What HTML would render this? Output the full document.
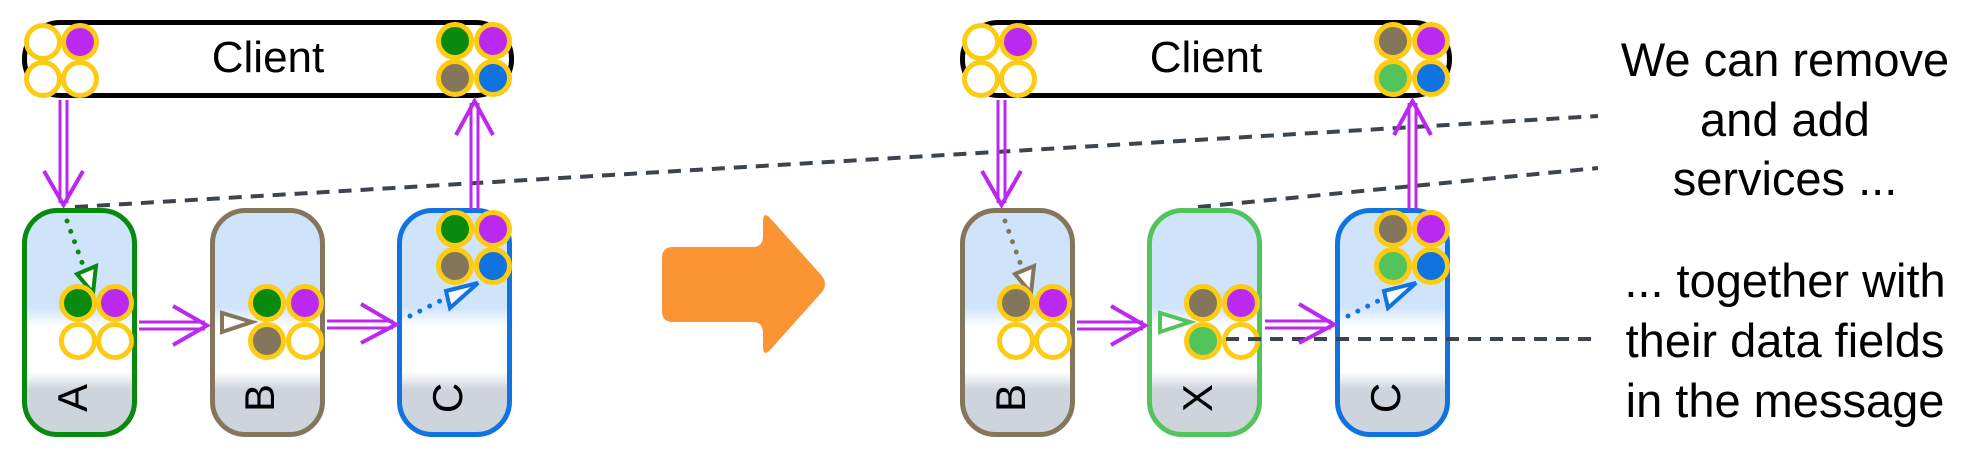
<!DOCTYPE html>
<html><head><meta charset="utf-8"><style>html,body{margin:0;padding:0;background:#fff}svg{display:block}</style></head>
<body>
<svg width="1980" height="459" viewBox="0 0 1980 459" xmlns="http://www.w3.org/2000/svg" font-family="Liberation Sans, sans-serif">
<defs>
<linearGradient id="bg" x1="0" y1="0" x2="0" y2="1">
<stop offset="0" stop-color="#cfe3fb"/><stop offset="0.43" stop-color="#cfe3fb"/>
<stop offset="0.52" stop-color="#ffffff"/><stop offset="0.72" stop-color="#ffffff"/>
<stop offset="0.8" stop-color="#cdd4dc"/><stop offset="1" stop-color="#cdd4dc"/>
</linearGradient>
</defs>

<g stroke="#3c4450" stroke-width="4" stroke-dasharray="13,9" fill="none">
<line x1="75" y1="207" x2="1598" y2="116"/>
<line x1="1198" y1="207" x2="1598" y2="168"/>
<line x1="1226" y1="339" x2="1598" y2="339"/>
</g>

<rect x="24.5" y="22.5" width="487" height="73" rx="36" fill="#fff" stroke="#000" stroke-width="5"/>
<text x="268" y="72" font-size="44" text-anchor="middle">Client</text>

<rect x="24.5" y="210.5" width="110" height="224" rx="33" fill="url(#bg)" stroke="#078a0e" stroke-width="5"/>
<rect x="212.5" y="210.5" width="110" height="224" rx="33" fill="url(#bg)" stroke="#84765a" stroke-width="5"/>
<rect x="399.5" y="210.5" width="110" height="224" rx="33" fill="url(#bg)" stroke="#1173e0" stroke-width="5"/>
<g font-size="42" text-anchor="middle">
<text transform="translate(87,398) rotate(-90)">A</text>
<text transform="translate(274,398) rotate(-90)">B</text>
<text transform="translate(462,398) rotate(-90)">C</text>
</g>

<g stroke="#bb29f0" fill="none">
<line x1="60" y1="100" x2="60" y2="203" stroke-width="3"/><line x1="67" y1="100" x2="67" y2="203" stroke-width="3"/>
<polyline points="44,171 63.5,205 83,171" stroke-width="4"/>
<line x1="471" y1="103" x2="471" y2="209" stroke-width="3"/><line x1="478" y1="103" x2="478" y2="209" stroke-width="3"/>
<polyline points="456,135 474.5,101 493,135" stroke-width="4"/>
<line x1="139" y1="322" x2="205" y2="322" stroke-width="3"/><line x1="139" y1="329" x2="205" y2="329" stroke-width="3"/>
<polyline points="173,306 207,325.5 173,345" stroke-width="4"/>
<line x1="327" y1="321" x2="393" y2="321" stroke-width="3"/><line x1="327" y1="328" x2="393" y2="328" stroke-width="3"/>
<polyline points="361,304 396,324.5 361,343" stroke-width="4"/>
</g>

<line x1="67" y1="221" x2="84" y2="268" stroke="#078a0e" stroke-width="5" stroke-linecap="round" stroke-dasharray="0,11"/>
<polygon points="93,293 77,274 96,266" fill="#fff" stroke="#078a0e" stroke-width="4"/>
<polygon points="252,322 222,313 222,332" fill="#fff" stroke="#84765a" stroke-width="4"/>
<line x1="410" y1="316" x2="446" y2="298" stroke="#1173e0" stroke-width="5" stroke-linecap="round" stroke-dasharray="0,11"/>
<polygon points="478,283 446,291 450,308" fill="#fff" stroke="#1173e0" stroke-width="4"/>

<g stroke="#fccb14" stroke-width="5">
<circle cx="43" cy="42" r="16.5" fill="#fff"/><circle cx="80" cy="42" r="16.5" fill="#bb29f0"/>
<circle cx="43" cy="79" r="16.5" fill="#fff"/><circle cx="80" cy="79" r="16.5" fill="#fff"/>
<circle cx="455" cy="41" r="16.5" fill="#078a0e"/><circle cx="493" cy="41" r="16.5" fill="#bb29f0"/>
<circle cx="455" cy="78" r="16.5" fill="#84765a"/><circle cx="493" cy="78" r="16.5" fill="#1173e0"/>
<circle cx="78" cy="303" r="16.5" fill="#078a0e"/><circle cx="115" cy="303" r="16.5" fill="#bb29f0"/>
<circle cx="78" cy="341" r="16.5" fill="#fff"/><circle cx="115" cy="341" r="16.5" fill="#fff"/>
<circle cx="267" cy="303" r="16.5" fill="#078a0e"/><circle cx="305" cy="303" r="16.5" fill="#bb29f0"/>
<circle cx="267" cy="341" r="16.5" fill="#84765a"/><circle cx="305" cy="341" r="16.5" fill="#fff"/>
<circle cx="455" cy="229" r="16.5" fill="#078a0e"/><circle cx="493" cy="229" r="16.5" fill="#bb29f0"/>
<circle cx="455" cy="266" r="16.5" fill="#84765a"/><circle cx="493" cy="266" r="16.5" fill="#1173e0"/>
</g>

<path d="M662 258 Q662 247 673 247 L752 247 Q763 247 763 236 L763 222 Q763 210 771 219 L822 276 Q828 284 822 292 L771 349 Q763 358 763 346 L763 333 Q763 322 752 322 L673 322 Q662 322 662 311 Z" fill="#fb9533"/>

<rect x="962.5" y="22.5" width="487" height="73" rx="36" fill="#fff" stroke="#000" stroke-width="5"/>
<text x="1206" y="72" font-size="44" text-anchor="middle">Client</text>

<rect x="962.5" y="210.5" width="110" height="224" rx="33" fill="url(#bg)" stroke="#84765a" stroke-width="5"/>
<rect x="1149.5" y="210.5" width="110" height="224" rx="33" fill="url(#bg)" stroke="#53c45c" stroke-width="5"/>
<rect x="1337.5" y="210.5" width="110" height="224" rx="33" fill="url(#bg)" stroke="#1173e0" stroke-width="5"/>
<g font-size="42" text-anchor="middle">
<text transform="translate(1025,398) rotate(-90)">B</text>
<text transform="translate(1212,398) rotate(-90)">X</text>
<text transform="translate(1400,398) rotate(-90)">C</text>
</g>
<line x1="1226" y1="339" x2="1460" y2="339" stroke="#3c4450" stroke-width="4" stroke-dasharray="13,9"/>

<g stroke="#bb29f0" fill="none">
<line x1="998" y1="100" x2="998" y2="203" stroke-width="3"/><line x1="1005" y1="100" x2="1005" y2="203" stroke-width="3"/>
<polyline points="982,171 1001.5,205 1021,171" stroke-width="4"/>
<line x1="1409" y1="103" x2="1409" y2="209" stroke-width="3"/><line x1="1416" y1="103" x2="1416" y2="209" stroke-width="3"/>
<polyline points="1394,135 1412.5,101 1431,135" stroke-width="4"/>
<line x1="1077" y1="322" x2="1143" y2="322" stroke-width="3"/><line x1="1077" y1="329" x2="1143" y2="329" stroke-width="3"/>
<polyline points="1111,306 1145,325.5 1111,345" stroke-width="4"/>
<line x1="1265" y1="321" x2="1331" y2="321" stroke-width="3"/><line x1="1265" y1="328" x2="1331" y2="328" stroke-width="3"/>
<polyline points="1299,304 1334,324.5 1299,343" stroke-width="4"/>
</g>

<line x1="1005" y1="221" x2="1022" y2="268" stroke="#84765a" stroke-width="5" stroke-linecap="round" stroke-dasharray="0,11"/>
<polygon points="1031,293 1015,274 1034,266" fill="#fff" stroke="#84765a" stroke-width="4"/>
<polygon points="1190,322 1160,313 1160,332" fill="#fff" stroke="#53c45c" stroke-width="4"/>
<line x1="1348" y1="316" x2="1384" y2="298" stroke="#1173e0" stroke-width="5" stroke-linecap="round" stroke-dasharray="0,11"/>
<polygon points="1416,283 1384,291 1388,308" fill="#fff" stroke="#1173e0" stroke-width="4"/>

<g stroke="#fccb14" stroke-width="5">
<circle cx="981" cy="42" r="16.5" fill="#fff"/><circle cx="1018" cy="42" r="16.5" fill="#bb29f0"/>
<circle cx="981" cy="79" r="16.5" fill="#fff"/><circle cx="1018" cy="79" r="16.5" fill="#fff"/>
<circle cx="1393" cy="41" r="16.5" fill="#84765a"/><circle cx="1431" cy="41" r="16.5" fill="#bb29f0"/>
<circle cx="1393" cy="78" r="16.5" fill="#53c45c"/><circle cx="1431" cy="78" r="16.5" fill="#1173e0"/>
<circle cx="1016" cy="303" r="16.5" fill="#84765a"/><circle cx="1053" cy="303" r="16.5" fill="#bb29f0"/>
<circle cx="1016" cy="341" r="16.5" fill="#fff"/><circle cx="1053" cy="341" r="16.5" fill="#fff"/>
<circle cx="1203" cy="303" r="16.5" fill="#84765a"/><circle cx="1241" cy="303" r="16.5" fill="#bb29f0"/>
<circle cx="1203" cy="341" r="16.5" fill="#53c45c"/><circle cx="1241" cy="341" r="16.5" fill="#fff"/>
<circle cx="1393" cy="229" r="16.5" fill="#84765a"/><circle cx="1431" cy="229" r="16.5" fill="#bb29f0"/>
<circle cx="1393" cy="266" r="16.5" fill="#53c45c"/><circle cx="1431" cy="266" r="16.5" fill="#1173e0"/>
</g>
<line x1="1226" y1="339" x2="1262" y2="339" stroke="#3c4450" stroke-width="4" stroke-dasharray="13,9"/>

<g font-size="47" text-anchor="middle" fill="#000">
<text x="1785" y="76">We can remove</text>
<text x="1785" y="136">and add</text>
<text x="1785" y="195">services ...</text>
<text x="1785" y="297">... together with</text>
<text x="1785" y="357">their data fields</text>
<text x="1785" y="417">in the message</text>
</g>
</svg>
</body></html>
